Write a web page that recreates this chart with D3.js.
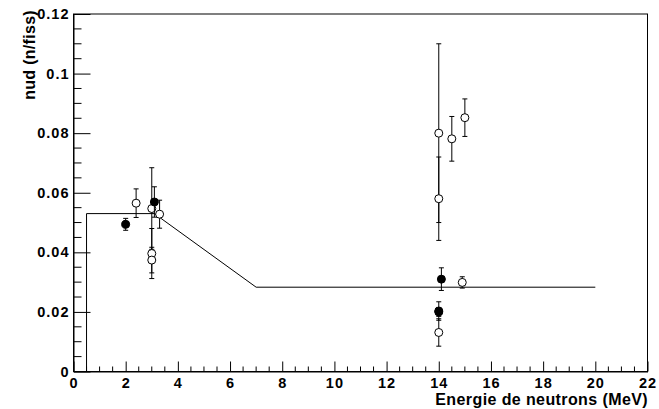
<!DOCTYPE html>
<html>
<head>
<meta charset="utf-8">
<script src="https://cdn.jsdelivr.net/npm/d3@7"></script>
<style>
  body { margin: 0; background: #fff; }
  svg { display: block; font-family: 'Liberation Sans', Arial, sans-serif; font-weight: bold; }
</style>
</head>
<body>
<svg width="659" height="409"></svg>
<script>
// data
const openE = [2.4, 3.0, 3.3, 3.0, 3.0, 14.0, 14.0, 14.5, 15.0, 14.9, 14.0]
const openV = [0.0565, 0.0547, 0.0528, 0.0396, 0.0374, 0.0800, 0.0580, 0.0781, 0.0852, 0.0299, 0.0131]
const openErr = [0.0048, 0.0137, 0.0047, 0.0084, 0.0043, 0.0300, 0.0140, 0.0075, 0.0063, 0.0019, 0.0046]

const filledE = [2.0, 3.1, 14.1, 14.0, 14.0]
const filledV = [0.0494, 0.0569, 0.0310, 0.0203, 0.0200]
const filledErr = [0.0020, 0.0051, 0.0038, 0.0031, 0.0015]

const curveE = [0.5, 0.5, 3.1, 7.0, 20.0]
const curveV = [0.0, 0.0530, 0.0530, 0.0283, 0.0283]

const xMajor = d3.range(0, 23, 2)
const yMajor = [0, 0.02, 0.04, 0.06, 0.08, 0.1, 0.12]

const svg = d3.select('svg')
const x = d3.scaleLinear().domain([0, 22]).range([73.5, 647.5])
const y = d3.scaleLinear().domain([0, 0.12]).range([371.5, 14])

// frame
svg.append('rect')
    .attr('x', x(0)).attr('y', y(0.12))
    .attr('width', x(22) - x(0)).attr('height', y(0) - y(0.12))
    .attr('fill', 'none').attr('stroke', '#000').attr('stroke-width', 1)

// x axis, ticks inward
const xAxis = svg.append('g').attr('transform', `translate(0, ${y(0)})`)
xAxis.call(d3.axisBottom(x).tickValues(xMajor).tickSizeInner(-10).tickSizeOuter(0).tickPadding(6).tickFormat(d3.format('d')))
xAxis.append('g').selectAll('line')
  .data(d3.range(0, 22.01, 0.5).filter(d => d % 2 !== 0))
  .enter().append('line')
    .attr('x1', d => x(d)).attr('x2', d => x(d))
    .attr('y1', 0).attr('y2', -5)
    .attr('stroke', '#000')

// y axis, ticks inward
const yAxis = svg.append('g').attr('transform', `translate(${x(0)}, 0)`)
yAxis.call(d3.axisLeft(y).tickValues(yMajor).tickSizeInner(-17).tickSizeOuter(0).tickPadding(4).tickFormat(d => String(+d.toFixed(2))))
yAxis.append('g').selectAll('line')
  .data(d3.range(0, 0.1201, 0.005).filter((d, i) => i % 4 !== 0))
  .enter().append('line')
    .attr('x1', 0).attr('x2', 8)
    .attr('y1', d => y(d)).attr('y2', d => y(d))
    .attr('stroke', '#000')

svg.selectAll('.domain').attr('stroke', '#000')
svg.selectAll('.tick text')
    .attr('font-size', 14.5).attr('font-weight', 'bold').attr('fill', '#000')
    .attr('letter-spacing', 1)
    .attr('font-family', "'Liberation Sans', Arial, sans-serif")

// titles
svg.append('text')
    .attr('x', 648).attr('y', 405)
    .attr('text-anchor', 'end').attr('font-size', 16).attr('letter-spacing', 0.4)
    .text('Energie de neutrons (MeV)')
svg.append('text')
    .attr('transform', 'translate(35, 10) rotate(-90)')
    .attr('text-anchor', 'end').attr('font-size', 16).attr('letter-spacing', 0.3)
    .text('nud (n/fiss)')

// model curve
const line = d3.line().x(d => x(d[0])).y(d => y(d[1]))
svg.append('path')
    .datum(d3.zip(curveE, curveV))
    .attr('d', line)
    .attr('fill', 'none').attr('stroke', '#000').attr('stroke-width', 1)

// error bars + markers
function drawSeries(es, vs, errs, fill) {
  const pts = d3.zip(es, vs, errs)
  const g = svg.append('g')
  const bars = g.selectAll('g.err').data(pts).enter().append('g').attr('class', 'err')
  bars.append('line')
      .attr('x1', d => x(d[0])).attr('x2', d => x(d[0]))
      .attr('y1', d => y(d[1] + d[2])).attr('y2', d => y(d[1] - d[2]))
      .attr('stroke', '#000')
  bars.selectAll('line.cap').data(d => [[d[0], d[1] + d[2]], [d[0], d[1] - d[2]]])
    .enter().append('line').attr('class', 'cap')
      .attr('x1', d => x(d[0]) - 2.5).attr('x2', d => x(d[0]) + 2.5)
      .attr('y1', d => y(d[1])).attr('y2', d => y(d[1]))
      .attr('stroke', '#000')
  g.selectAll('circle').data(pts).enter().append('circle')
      .attr('cx', d => x(d[0])).attr('cy', d => y(d[1]))
      .attr('r', 4)
      .attr('fill', fill).attr('stroke', '#000').attr('stroke-width', 1)
}
drawSeries(openE, openV, openErr, '#fff')
drawSeries(filledE, filledV, filledErr, '#000')
</script>
</body>
</html>
